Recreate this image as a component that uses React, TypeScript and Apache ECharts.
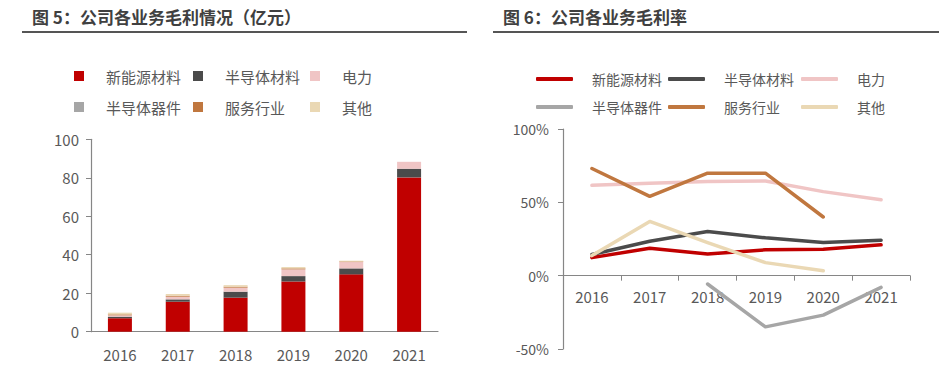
import React, { useEffect, useRef } from 'react';
import * as echarts from 'echarts';

const years = ['2016', '2017', '2018', '2019', '2020', '2021'];
const seriesNames = ['新能源材料', '半导体材料', '电力', '半导体器件', '服务行业', '其他'];
const colors = ['#C00000', '#4B4B4B', '#F0C5C5', '#A6A6A6', '#C0773F', '#EAD8B4'];

const titleLeft = '图 5：公司各业务毛利情况（亿元）';
const titleRight = '图 6：公司各业务毛利率';

// Gross profit (亿元)
const profitNewEnergy = [7.0, 15.6, 17.7, 26.1, 29.8, 80.2];
const profitSemiMaterial = [0.8, 1.2, 3.1, 2.8, 3.1, 4.5];
const profitPower = [0.7, 1.4, 2.1, 3.5, 3.3, 3.6];
const profitSemiDevice = [0, 0, -0.1, -0.3, -0.2, -0.1];
const profitService = [0.5, 0.5, 0.5, 0.5, 0.3, 0];
const profitOther = [0.9, 0.9, 0.8, 0.7, 0.4, 0];

// Gross margin (%)
const marginNewEnergy = [12.3, 18.7, 14.8, 17.6, 18.0, 21.0];
const marginSemiMaterial = [14.4, 23.5, 30.1, 25.8, 22.6, 24.2];
const marginPower = [61.6, 63.0, 64.2, 64.6, 57.3, 51.8];
const marginSemiDevice = [null, null, -5.7, -34.9, -26.9, -8.0];
const marginService = [73.1, 54.1, 69.9, 69.9, 40.0, null];
const marginOther = [13.7, 37.0, 22.5, 8.9, 3.4, null];

const marginMin = -50;
const marginMax = 100;

const profitData = [profitNewEnergy, profitSemiMaterial, profitPower, profitSemiDevice, profitService, profitOther];
const marginData = [marginNewEnergy, marginSemiMaterial, marginPower, marginSemiDevice, marginService, marginOther];

const FONT = '"Noto Sans CJK SC", "Noto Sans", sans-serif';
const LABEL = '#595959';
const AXIS = '#868686';

export default function App() {
  const ref = useRef<HTMLDivElement>(null);
  useEffect(() => {
    if (!ref.current) return;
    const chart = echarts.init(ref.current, undefined, { renderer: 'svg' });

    const legendLeftX = [74, 193, 310];
    const legendLeftY = [68.5, 99.5];
    const legendRightX = [536, 668, 801];
    const legendRightY = [72, 100];

    const legends: any[] = [];
    seriesNames.forEach((n, i) => {
      legends.push({
        data: [n],
        left: legendLeftX[i % 3],
        top: legendLeftY[Math.floor(i / 3)],
        padding: 0,
        icon: 'rect',
        itemWidth: 10,
        itemHeight: 10,
        selectedMode: false,
        textStyle: { fontSize: 15, color: LABEL, fontFamily: FONT, padding: [0, 0, 0, 17] },
      });
    });
    seriesNames.forEach((n, i) => {
      legends.push({
        data: [n],
        left: legendRightX[i % 3],
        top: legendRightY[Math.floor(i / 3)],
        padding: 0,
        icon: 'roundRect',
        itemWidth: 37,
        itemHeight: 4,
        selectedMode: false,
        textStyle: { fontSize: 14, color: LABEL, fontFamily: FONT, padding: [0, 0, 0, 14] },
      });
    });

    const barSeries = seriesNames.map((n, i) => ({
      name: n,
      type: 'bar',
      stack: 'profit',
      xAxisIndex: 0,
      yAxisIndex: 0,
      barWidth: 24,
      itemStyle: { color: colors[i] },
      data: profitData[i],
    }));

    const lineSeries = seriesNames.map((n, i) => ({
      name: n,
      type: 'line',
      xAxisIndex: 1,
      yAxisIndex: 1,
      symbol: 'none',
      connectNulls: false,
      z: 5,
      lineStyle: { color: colors[i], width: 3.5, cap: 'round', join: 'round' },
      itemStyle: { color: colors[i] },
      data: marginData[i],
    }));

    const rightTop = 129;
    const rightHeight = 220;
    // distance from grid bottom up to the zero line
    const zeroOffset = (rightHeight * (0 - marginMin)) / (marginMax - marginMin);

    chart.setOption({
      animation: false,
      textStyle: { fontFamily: FONT },
      title: [
        { text: titleLeft, left: 32, top: 8, padding: 0, textStyle: { fontSize: 17, fontWeight: 'bold', color: '#404040', fontFamily: FONT } },
        { text: titleRight, left: 503, top: 8, padding: 0, textStyle: { fontSize: 17, fontWeight: 'bold', color: '#404040', fontFamily: FONT } },
      ],
      graphic: [
        { type: 'line', shape: { x1: 22, y1: 32, x2: 467, y2: 32 }, style: { stroke: '#555555', lineWidth: 2 } },
        { type: 'line', shape: { x1: 493, y1: 32, x2: 939, y2: 32 }, style: { stroke: '#555555', lineWidth: 2 } },
      ],
      legend: legends,
      grid: [
        { left: 91, top: 139.3, width: 347, height: 192.4 },
        { left: 563, top: rightTop, width: 347, height: rightHeight },
      ],
      xAxis: [
        {
          type: 'category',
          gridIndex: 0,
          data: years,
          axisLine: { lineStyle: { color: AXIS, width: 1.2 } },
          axisTick: { show: false },
          axisLabel: { fontSize: 15, color: LABEL, margin: 15, fontFamily: FONT },
        },
        {
          type: 'category',
          gridIndex: 1,
          data: years,
          position: 'bottom',
          offset: -zeroOffset,
          axisLine: { onZero: false, lineStyle: { color: AXIS, width: 1.2 } },
          axisTick: { show: true, length: 5, alignWithLabel: false, lineStyle: { color: AXIS } },
          axisLabel: { fontSize: 15, color: LABEL, margin: 13, fontFamily: FONT },
        },
      ],
      yAxis: [
        {
          type: 'value',
          gridIndex: 0,
          min: 0,
          max: 100,
          interval: 20,
          splitLine: { show: false },
          axisLine: { show: true, lineStyle: { color: AXIS, width: 1.2 } },
          axisTick: { show: true, length: 5, lineStyle: { color: AXIS } },
          axisLabel: { fontSize: 15, color: LABEL, margin: 12, fontFamily: FONT },
        },
        {
          type: 'value',
          gridIndex: 1,
          min: marginMin,
          max: marginMax,
          interval: 50,
          splitLine: { show: false },
          axisLine: { show: true, lineStyle: { color: AXIS, width: 1.2 } },
          axisTick: { show: true, length: 5, lineStyle: { color: AXIS } },
          axisLabel: { fontSize: 14, color: LABEL, margin: 14, formatter: '{value}%', fontFamily: FONT },
        },
      ],
      series: [...barSeries, ...lineSeries],
    });

    return () => chart.dispose();
  }, []);

  return <div ref={ref} style={{ position: 'fixed', left: 0, top: 0, width: 946, height: 370, background: '#fff' }} />;
}
